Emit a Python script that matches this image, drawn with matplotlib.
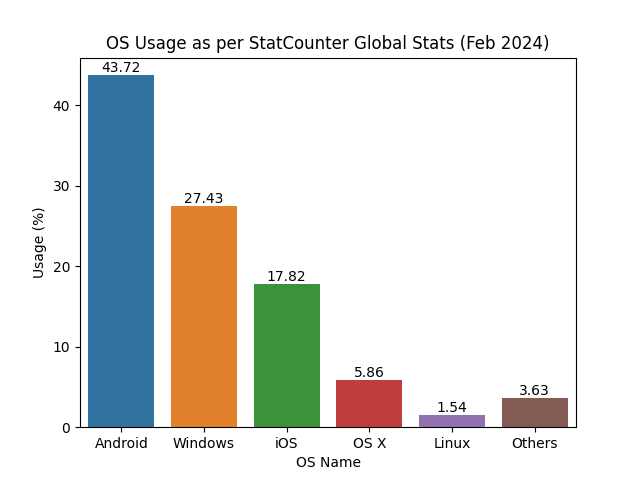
import matplotlib
matplotlib.use("Agg")
import matplotlib.pyplot as plt
import seaborn as sns

os_names = ["Android", "Windows", "iOS", "OS X", "Linux", "Others"]
usage = [43.72, 27.43, 17.82, 5.86, 1.54, 3.63]

fig, ax = plt.subplots(figsize=(6.4, 4.8), dpi=100)
sns.barplot(x=os_names, y=usage, hue=os_names, legend=False, ax=ax)

for c in ax.containers:
    ax.bar_label(c, fmt="%.2f")

ax.set_title("OS Usage as per StatCounter Global Stats (Feb 2024)")
ax.set_xlabel("OS Name")
ax.set_ylabel("Usage (%)")

fig.savefig("out.png")
